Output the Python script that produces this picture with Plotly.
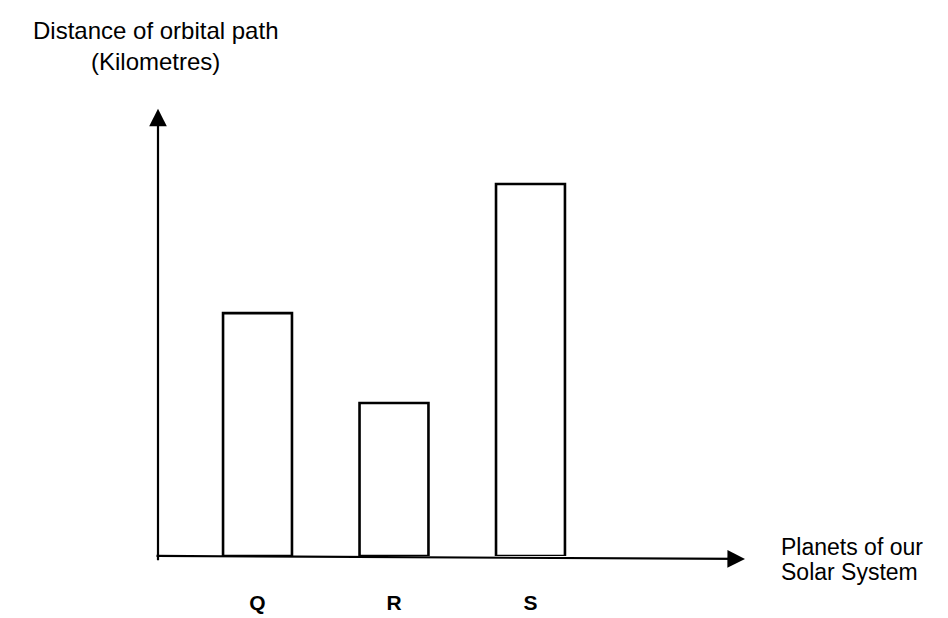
import plotly.graph_objects as go

categories = ["Q", "R", "S"]
distances = [5.19, 3.27, 7.95]
y_title_lines = ["Distance of orbital path", "(Kilometres)"]
x_title_lines = ["Planets of our", "Solar System"]

W, H = 948, 618
L, R, T, B = 150, 213, 80, 64
FONT = "Liberation Sans, Arial, sans-serif"

def px(x):
    return (x - L) / (W - L - R)

def py(y):
    return 1 - (y - T) / (H - T - B)

fig = go.Figure()
fig.add_trace(go.Bar(
    x=categories, y=distances, width=0.505,
    marker=dict(color="white", line=dict(color="black", width=2.6)),
    hoverinfo="skip",
))

x_lo, x_hi = -0.729, 3.557
y_lo, y_hi = 0, 10

fig.update_layout(
    width=W, height=H,
    margin=dict(l=L, r=R, t=T, b=B, pad=0),
    paper_bgcolor="white", plot_bgcolor="white",
    showlegend=False,
    font=dict(family=FONT, color="black"),
    xaxis=dict(range=[x_lo, x_hi], showgrid=False, zeroline=False, showline=False,
               ticks="", tickfont=dict(size=21, family=FONT, weight="bold"),
               ticklabelstandoff=32),
    yaxis=dict(range=[y_lo, y_hi], showgrid=False, zeroline=False, showline=False,
               showticklabels=False, ticks=""),
)

# axis arrows (tail offsets in pixels)
fig.add_annotation(x=px(150), y=py(101), xref="paper", yref="paper",
                   ax=0, ay=453, axref="pixel", ayref="pixel",
                   showarrow=True, arrowhead=2, arrowsize=1.6, arrowwidth=2.2,
                   arrowcolor="black", text="")
fig.add_annotation(x=px(737), y=py(557), xref="paper", yref="paper",
                   ax=-590, ay=-3, axref="pixel", ayref="pixel",
                   showarrow=True, arrowhead=2, arrowsize=1.6, arrowwidth=2.2,
                   arrowcolor="black", text="")

for i, line in enumerate(y_title_lines):
    fig.add_annotation(text=line, xref="paper", yref="paper", x=px(147), y=py(22 + 31 * i),
                       xanchor="center", yanchor="middle", showarrow=False,
                       font=dict(size=24, family=FONT, color="black"))
for i, line in enumerate(x_title_lines):
    fig.add_annotation(text=line, xref="paper", yref="paper", x=px(771), y=py(545 + 25 * i),
                       xanchor="left", yanchor="middle", showarrow=False,
                       font=dict(size=23, family=FONT, color="black"))

fig.write_html("out.html")
